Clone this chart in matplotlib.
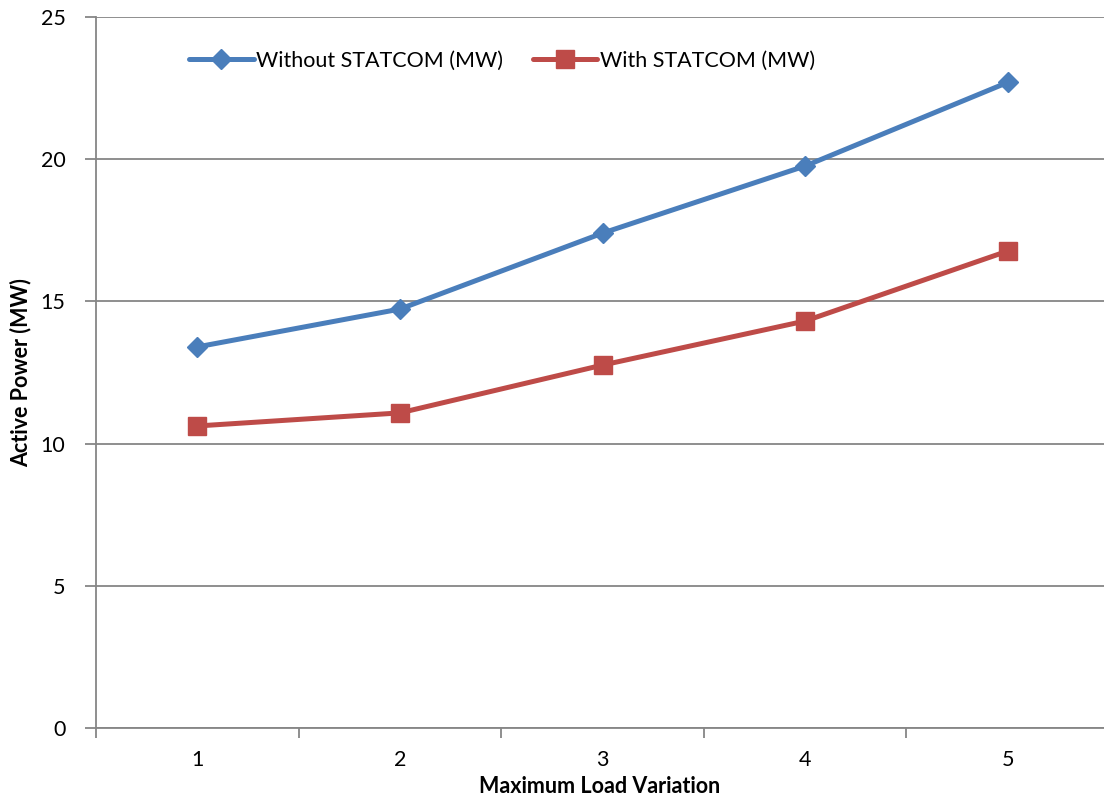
import matplotlib

matplotlib.use("Agg")
import matplotlib.pyplot as plt
from matplotlib.ticker import FixedLocator

# values
categories = [1, 2, 3, 4, 5]
without_statcom = [13.4, 14.73, 17.4, 19.76, 22.7]
with_statcom = [10.62, 11.08, 12.76, 14.31, 16.77]
y_ticks = [0, 5, 10, 15, 20, 25]

BLUE = "#4A7EBB"
RED = "#BE4B48"
GRID = "#868686"

plt.rcParams["font.family"] = ["Lato", "DejaVu Sans"]

W, H = 1104, 799
fig = plt.figure(figsize=(W / 100, H / 100), dpi=100)
left, right, top, bottom = 96, 1104, 17, 728
ax = fig.add_axes([left / W, 1 - bottom / H, (right - left) / W, (bottom - top) / H])

step = 202.6
ax.set_xlim(0.5, 0.5 + (right - left) / step)
ax.set_ylim(0, 25)

ax.plot(categories, without_statcom, color=BLUE, linewidth=3.6, marker="D",
        markersize=10.5, label="Without STATCOM (MW)", solid_capstyle="round")
ax.plot(categories, with_statcom, color=RED, linewidth=3.6, marker="s",
        markersize=13.5, label="With STATCOM (MW)", solid_capstyle="round")

ax.set_yticks(y_ticks)
ax.yaxis.grid(True, color=GRID, linewidth=1.3)
ax.set_axisbelow(True)

ax.set_xticks(categories)
ax.xaxis.set_minor_locator(FixedLocator([c - 0.5 for c in categories]))
ax.tick_params(axis="x", which="major", length=0, pad=16, labelsize=15.5)
ax.tick_params(axis="x", which="minor", length=7, width=1.3, color=GRID, direction="out")
ax.tick_params(axis="y", length=8, width=1.3, color=GRID, pad=14, labelsize=15.5)

for side in ("top", "right"):
    ax.spines[side].set_visible(False)
for side in ("left", "bottom"):
    ax.spines[side].set_color(GRID)
    ax.spines[side].set_linewidth(1.3)

ax.set_xlabel("Maximum Load Variation", fontsize=15.5, fontweight="bold", labelpad=4)
ax.set_ylabel("Active Power (MW)", fontsize=15.5, fontweight="bold")
ax.yaxis.set_label_coords((31 - left) / (right - left), 0.5)

ax.legend(loc="upper left", bbox_to_anchor=(0.073, 0.98), ncol=2, frameon=False,
          fontsize=15.5, handlelength=3.0, handletextpad=0.1, columnspacing=1.4)

fig.savefig("out.png", dpi=100)
